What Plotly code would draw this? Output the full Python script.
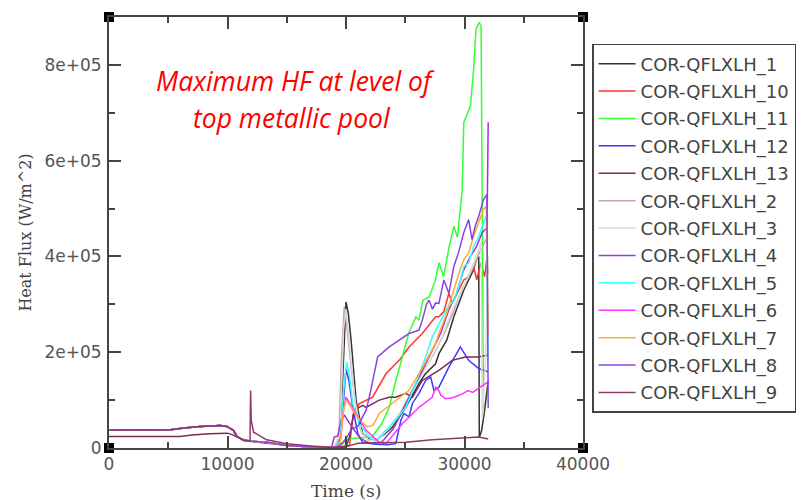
import plotly.graph_objects as go

# ---- data: time (s) and heat flux (W/m^2) ----
# common pre-relocation history shared by most lower-head segments
EARLY_T = [0, 2000, 4300, 5200, 6300, 7700, 9400, 9950, 10500, 10800, 11350, 12000, 13300, 15000, 17200, 18500]
EARLY_Q = [37e3, 37e3, 37e3, 38e3, 42e3, 45e3, 47e3, 45e3, 37e3, 24e3, 16e3, 14e3, 12e3, 5e3, 2e3, 1e3]

t_1 = [19000, 19500, 19700, 19900, 20000, 20200, 20430, 20850, 21400, 22000, 22500, 23300, 23930, 25050, 26160,
       26700, 27560, 27840, 28500, 29100, 29520, 29940, 30350, 30770, 31000, 31200, 31250, 31450, 31700, 32000]
q_1 = [1e3, 20e3, 150e3, 280e3, 305e3, 280e3, 225e3, 100e3, 30e3, 18e3, 16e3, 30e3, 44e3, 85e3, 135e3,
       155e3, 176e3, 197e3, 225e3, 274e3, 302e3, 330e3, 351e3, 372e3, 393e3, 400e3, 22e3, 37e3, 79e3, 141e3]

t_10 = [19000, 20000, 20300, 20600, 21130, 22250, 23370, 24490, 25320, 26440, 27560, 27840, 28260, 28680, 28960,
        29520, 29940, 30350, 30770, 31030, 31370, 31700, 31870, 32000]
q_10 = [1e3, 3e3, 5e3, 70e3, 93e3, 106e3, 155e3, 183e3, 211e3, 239e3, 274e3, 274e3, 285e3, 323e3, 303e3,
        330e3, 351e3, 358e3, 379e3, 351e3, 386e3, 358e3, 393e3, 365e3]

t_11 = [19000, 19800, 20000, 20500, 21500, 22200, 23000, 23650, 24200, 24750, 25300, 25900, 26150, 26500, 27000,
        27560, 27840, 28240, 28700, 29100, 29400, 29800, 29940, 30500, 30770, 30970, 31250, 31400, 31600]
q_11 = [1e3, 10e3, 18e3, 20e3, 22e3, 23e3, 50e3, 85e3, 140e3, 190e3, 240e3, 274e3, 267e3, 309e3, 315e3,
        351e3, 387e3, 358e3, 420e3, 463e3, 440e3, 536e3, 680e3, 714e3, 791e3, 875e3, 889e3, 880e3, 83e3]

t_12 = [19000, 19500, 19800, 20000, 20250, 20600, 21000, 21400, 22500, 23500, 24200, 24630, 24900, 25320, 25600,
        26160, 26720, 27150, 27420, 27840, 28680, 29650, 30350, 31200, 32000]
q_12 = [1e3, 10e3, 110e3, 165e3, 140e3, 80e3, 30e3, 12e3, 8e3, 7e3, 9e3, 58e3, 72e3, 65e3, 93e3,
        114e3, 141e3, 148e3, 120e3, 127e3, 169e3, 211e3, 183e3, 166e3, 159e3]

t_13 = [0, 6000, 7000, 8500, 10000, 10500, 11000, 12000, 13000, 15000, 17000, 19000, 20000, 20300, 20700, 21400,
        21700, 22800, 23650, 24200, 25050, 25600, 26440, 27840, 28960, 30080, 31200, 32000]
q_13 = [24e3, 24e3, 27e3, 30e3, 31e3, 27e3, 20e3, 14e3, 11e3, 6e3, 3e3, 1e3, 2e3, 23e3, 79e3, 89e3,
        85e3, 100e3, 106e3, 106e3, 114e3, 106e3, 141e3, 162e3, 183e3, 190e3, 190e3, 194e3]

t_2 = [19000, 19400, 19600, 19850, 20050, 20300, 20700, 21200, 21800, 22500, 23500, 24500, 25500, 26500, 27500,
       28300, 29000, 29600, 30200, 30800, 31300, 31700, 32000]
q_2 = [1e3, 20e3, 180e3, 295e3, 260e3, 200e3, 110e3, 40e3, 18e3, 15e3, 38e3, 70e3, 115e3, 160e3, 200e3,
       240e3, 280e3, 320e3, 350e3, 380e3, 410e3, 430e3, 440e3]

t_3 = [19000, 19500, 19800, 20000, 20300, 20800, 21300, 22000, 22800, 23800, 25000, 26000, 27000, 28000, 29000,
       30000, 31000, 31400, 31500, 31800, 32000]
q_3 = [1e3, 30e3, 250e3, 290e3, 220e3, 90e3, 30e3, 15e3, 20e3, 45e3, 90e3, 135e3, 180e3, 225e3, 290e3,
       340e3, 400e3, 430e3, 60e3, 200e3, 400e3]

t_4 = [18800, 19000, 19300, 19600, 19900, 20200, 20600, 21200, 22000, 23000, 24000, 25000, 26000, 27000, 28000,
       28700, 29300, 29900, 30500, 31000, 31500, 31900, 32000]
q_4 = [2e3, 23e3, 25e3, 61e3, 68e3, 55e3, 40e3, 20e3, 10e3, 12e3, 40e3, 90e3, 140e3, 190e3, 240e3,
       290e3, 320e3, 370e3, 400e3, 420e3, 450e3, 460e3, 680e3]

t_5 = [19000, 19500, 19800, 20050, 20300, 20560, 21130, 21970, 22530, 23930, 25050, 25880, 26720, 27280, 27840,
       28500, 29100, 29520, 29940, 30350, 30770, 31200, 31600, 31850, 32000]
q_5 = [1e3, 15e3, 120e3, 180e3, 150e3, 93e3, 51e3, 23e3, 16e3, 51e3, 85e3, 135e3, 190e3, 232e3, 260e3,
       290e3, 309e3, 337e3, 379e3, 386e3, 421e3, 442e3, 470e3, 484e3, 180e3]

t_6 = [19000, 19500, 19800, 20000, 20400, 20850, 21700, 22800, 23370, 24770, 26160, 27280, 27560, 27840, 28000,
       28400, 29000, 29520, 29900, 30300, 30700, 31200, 31750, 32000]
q_6 = [1e3, 10e3, 80e3, 106e3, 90e3, 72e3, 37e3, 12e3, 9e3, 51e3, 85e3, 106e3, 127e3, 120e3, 110e3,
       103e3, 105e3, 110e3, 114e3, 120e3, 116e3, 125e3, 135e3, 138e3]

t_7 = [19000, 19500, 19800, 20000, 20300, 20800, 21300, 21800, 22300, 22800, 24000, 25300, 26500, 27560, 27840,
       28400, 29100, 29520, 29940, 30350, 30770, 31200, 31600, 31850, 32000]
q_7 = [1e3, 10e3, 80e3, 100e3, 90e3, 70e3, 55e3, 44e3, 48e3, 72e3, 95e3, 120e3, 170e3, 219e3, 239e3,
       274e3, 330e3, 365e3, 393e3, 407e3, 442e3, 470e3, 498e3, 505e3, 239e3]

t_8 = [19000, 19500, 20000, 20500, 21000, 21400, 21700, 22000, 22250, 22670, 23650, 24500, 25320, 26160, 26440,
       26800, 27000, 27300, 27560, 27840, 28260, 28680, 29100, 29520, 29940, 30350, 30630, 30900, 31200, 31600,
       31890, 32000]
q_8 = [1e3, 5e3, 20e3, 40e3, 45e3, 65e3, 79e3, 110e3, 141e3, 190e3, 211e3, 225e3, 239e3, 246e3, 267e3,
       300e3, 309e3, 290e3, 303e3, 302e3, 351e3, 323e3, 379e3, 410e3, 450e3, 477e3, 435e3, 463e3, 484e3, 519e3,
       529e3, 83e3]

t_9 = [11900, 11950, 12000, 12200, 13300, 15000, 17000, 19000, 20300, 21000, 25050, 27280, 30080, 31200, 32000]
q_9 = [14e3, 120e3, 58e3, 33e3, 17e3, 9e3, 4e3, 1e3, 5e3, 10e3, 12e3, 17e3, 21e3, 23e3, 19e3]

SERIES = [
    ("COR-QFLXLH_1", t_1, q_1, "#333333", True),
    ("COR-QFLXLH_10", t_10, q_10, "#ff3333", True),
    ("COR-QFLXLH_11", t_11, q_11, "#33ff33", True),
    ("COR-QFLXLH_12", t_12, q_12, "#3a3aff", True),
    ("COR-QFLXLH_13", t_13, q_13, "#7a2a55", False),
    ("COR-QFLXLH_2", t_2, q_2, "#c8a4a4", True),
    ("COR-QFLXLH_3", t_3, q_3, "#dadada", True),
    ("COR-QFLXLH_4", t_4, q_4, "#a035d0", True),
    ("COR-QFLXLH_5", t_5, q_5, "#33ffff", True),
    ("COR-QFLXLH_6", t_6, q_6, "#ff33ff", True),
    ("COR-QFLXLH_7", t_7, q_7, "#ffaa33", True),
    ("COR-QFLXLH_8", t_8, q_8, "#8a45e0", True),
    ("COR-QFLXLH_9", t_9, q_9, "#8c3868", True),
]

X_RANGE = [0, 40000]
Y_RANGE = [0, 9e5]
X_TICKS = [0, 10000, 20000, 30000, 40000]
X_LABELS = ["0", "10000", "20000", "30000", "40000"]
Y_TICKS = [0, 2e5, 4e5, 6e5, 8e5]
Y_LABELS = ["0", "2e+05", "4e+05", "6e+05", "8e+05"]

AXIS_COLOR = "#444444"
TEXT_COLOR = "#555555"

fig = go.Figure()

for name, t, q, color, uses_early in SERIES:
    if uses_early:
        # prepend the shared early history up to the first own sample
        head = [k for k, v in enumerate(EARLY_T) if v < t[0]]
        tt = [EARLY_T[k] for k in head] + t
        qq = [EARLY_Q[k] for k in head] + q
    else:
        tt, qq = t, q
    fig.add_trace(go.Scatter(
        x=tt, y=qq, mode="lines", name=name,
        line=dict(color=color, width=1.5),
        legendgroup=name,
    ))

# corner markers of the frame
fig.add_trace(go.Scatter(
    x=[X_RANGE[0], X_RANGE[1], X_RANGE[0], X_RANGE[1]],
    y=[Y_RANGE[0], Y_RANGE[0], Y_RANGE[1], Y_RANGE[1]],
    mode="markers", showlegend=False, hoverinfo="skip", cliponaxis=False,
    marker=dict(symbol="square", size=10, color="black"),
))

axis_common = dict(
    showgrid=False, zeroline=False, showline=True, linecolor=AXIS_COLOR, linewidth=2,
    mirror="ticks", ticks="inside", ticklen=12, tickwidth=1.5, tickcolor=AXIS_COLOR,
    tickfont=dict(family="DejaVu Sans", size=17, color=TEXT_COLOR),
)

fig.update_xaxes(
    range=X_RANGE, tickvals=X_TICKS, ticktext=X_LABELS,
    minor=dict(dtick=5000, ticks="inside", ticklen=6, tickwidth=1.5, tickcolor=AXIS_COLOR),
    **axis_common,
)
fig.update_yaxes(
    range=Y_RANGE, tickvals=Y_TICKS, ticktext=Y_LABELS, ticklabelstandoff=2,
    minor=dict(dtick=1e5, ticks="inside", ticklen=6, tickwidth=1.5, tickcolor=AXIS_COLOR),
    **axis_common,
)

fig.add_annotation(
    text="Time (s)", xref="paper", yref="paper", x=0.5, y=-0.099,
    xanchor="center", yanchor="middle", showarrow=False,
    font=dict(family="DejaVu Serif", size=17, color="#444444"),
)
fig.add_annotation(
    text="Heat Flux (W/m^2)", xref="paper", yref="paper", x=-0.177, y=0.5,
    xanchor="center", yanchor="middle", showarrow=False, textangle=-90,
    font=dict(family="DejaVu Serif", size=16, color="#444444"),
)
fig.add_annotation(
    text="<i>Maximum HF at level of</i>",
    xref="paper", yref="paper", x=0.394, y=0.851,
    xanchor="center", yanchor="middle", showarrow=False,
    font=dict(family="Open Sans", size=26.5, color="#ff0000"),
)
fig.add_annotation(
    text="<i>top metallic pool</i>",
    xref="paper", yref="paper", x=0.387, y=0.765,
    xanchor="center", yanchor="middle", showarrow=False,
    font=dict(family="Open Sans", size=26.5, color="#ff0000"),
)

fig.update_layout(
    width=807, height=500,
    margin=dict(l=109, r=223, t=17, b=52),
    paper_bgcolor="white", plot_bgcolor="white",
    legend=dict(
        x=1.017, y=0.9375, xanchor="left", yanchor="top",
        bordercolor=AXIS_COLOR, borderwidth=1.5, bgcolor="white",
        font=dict(family="DejaVu Sans", size=18, color="#444444"),
        tracegroupgap=1, traceorder="grouped", itemwidth=37,
        entrywidth=170, entrywidthmode="pixels",
    ),
    showlegend=True,
)

fig.write_html("out.html")
